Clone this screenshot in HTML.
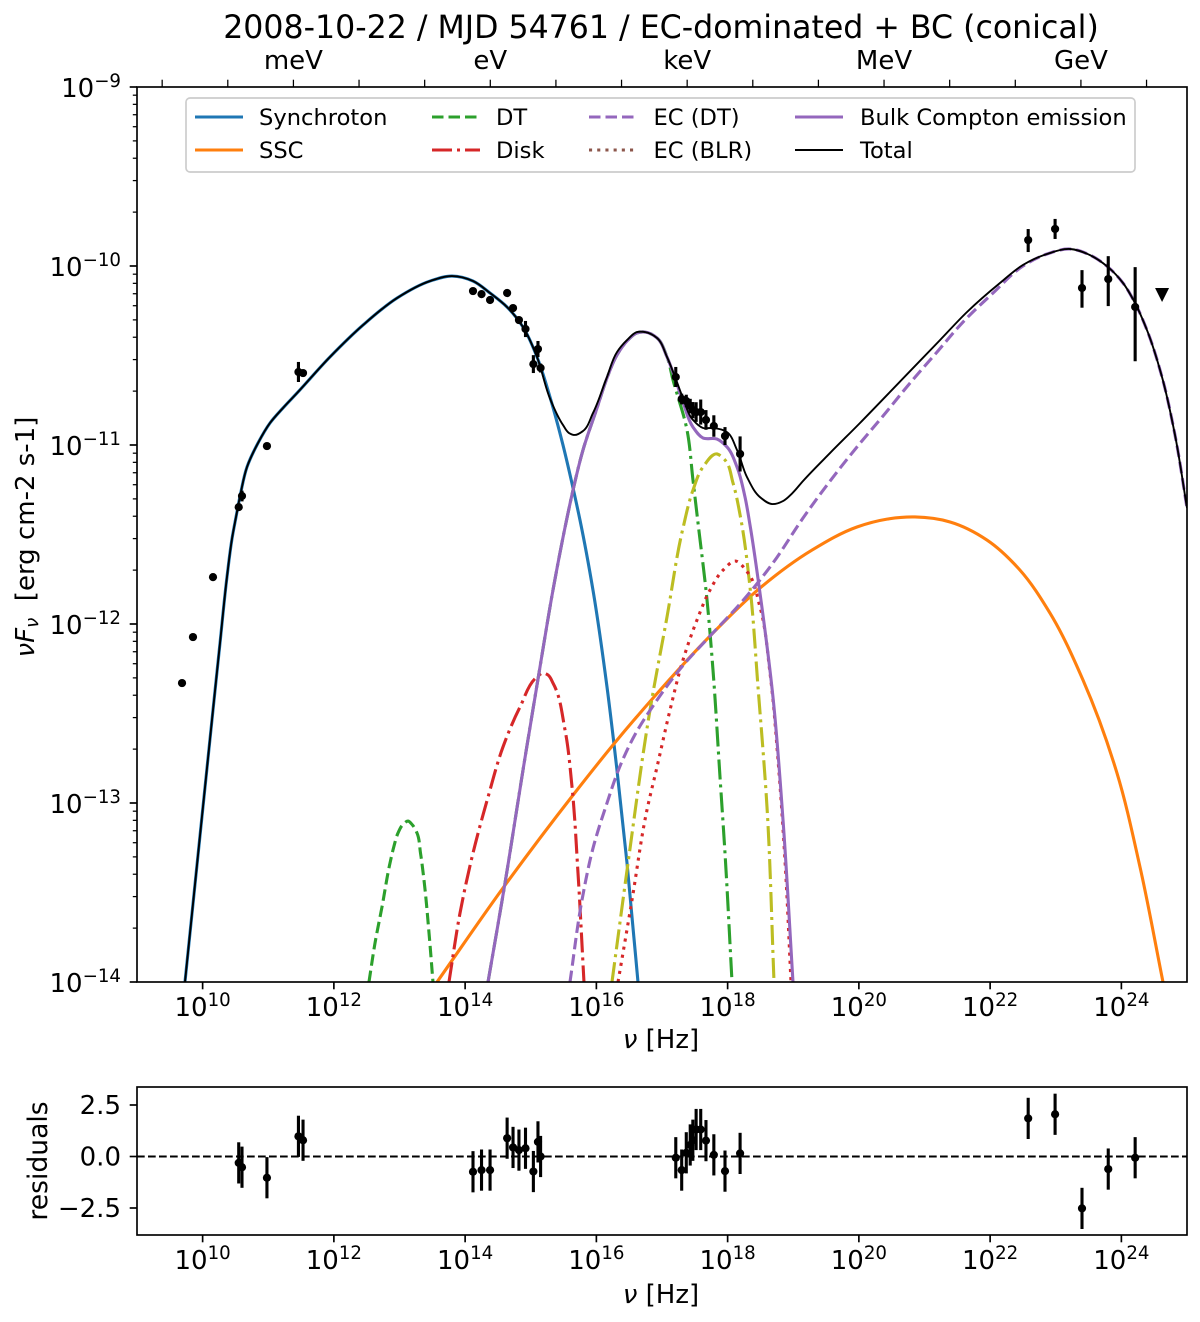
<!DOCTYPE html>
<html lang="en">
<head>
<meta charset="utf-8">
<title>2008-10-22 SED</title>
<style>
html,body{margin:0;padding:0;background:#fff;width:1200px;height:1322px;overflow:hidden}
svg{display:block}
text{font-family:"DejaVu Sans","Liberation Sans",sans-serif;fill:#000}
</style>
</head>
<body>
<svg id="figure" xmlns="http://www.w3.org/2000/svg" width="1200" height="1322" viewBox="0 0 1200 1322">
  <defs>
    <clipPath id="main-clip"><rect x="137" y="87" width="1050" height="895"/></clipPath>
    <clipPath id="res-clip"><rect x="137" y="1087" width="1050" height="148"/></clipPath>
  </defs>
  <rect x="0" y="0" width="1200" height="1322" fill="#fff"/>
  <text x="661" y="38" text-anchor="middle" font-size="31.6">2008-10-22 / MJD 54761 / EC-dominated + BC (conical)</text>
  <g id="main-curves" clip-path="url(#main-clip)"></g>
  <g id="main-data"></g>
  <g id="res-lines" clip-path="url(#res-clip)">
    <line x1="137" x2="1187" y1="1156.5" y2="1156.5" stroke="#000" stroke-width="2.1" stroke-dasharray="7.7 3.3"/>
  </g>
  <g id="axes-ticks"></g>
  <rect x="137" y="87" width="1050" height="895" fill="none" stroke="#000" stroke-width="1.67"/>
  <rect x="137" y="1087" width="1050" height="148" fill="none" stroke="#000" stroke-width="1.67"/>

  <g>
    <rect x="186" y="98" width="949" height="74" rx="4" ry="4" fill="#fff" fill-opacity="0.8" stroke="#ccc" stroke-width="1.67"/>
    <g font-size="22.6">
      <g><line x1="195" x2="243" y1="117" y2="117" stroke="#1f77b4" stroke-width="3.1"/><text x="259" y="125">Synchroton</text></g>
      <g><line x1="195" x2="243" y1="150" y2="150" stroke="#ff7f0e" stroke-width="3.1"/><text x="259" y="158">SSC</text></g>
      <g><line x1="432" x2="480" y1="117" y2="117" stroke="#2ca02c" stroke-width="3.1" stroke-dasharray="11.5 5"/><text x="496" y="125">DT</text></g>
      <g><line x1="432" x2="480" y1="150" y2="150" stroke="#d62728" stroke-width="3.1" stroke-dasharray="20 5 3 5"/><text x="496" y="158">Disk</text></g>
      <g><line x1="589" x2="637" y1="117" y2="117" stroke="#9467bd" stroke-width="3.1" stroke-dasharray="11.5 5"/><text x="653.5" y="125">EC (DT)</text></g>
      <g><line x1="589" x2="637" y1="150" y2="150" stroke="#8c564b" stroke-width="3.1" stroke-dasharray="3.1 5.1"/><text x="653.5" y="158">EC (BLR)</text></g>
      <g><line x1="795" x2="843" y1="117" y2="117" stroke="#9467bd" stroke-width="3.1"/><text x="860" y="125">Bulk Compton emission</text></g>
      <g><line x1="795" x2="843" y1="150" y2="150" stroke="#000" stroke-width="2.08"/><text x="860" y="158">Total</text></g>
    </g>
  </g>

  <text transform="translate(34 537) rotate(-90)" text-anchor="middle" font-size="26" xml:space="preserve"><tspan font-style="italic">νF</tspan><tspan font-style="italic" font-size="18.2" dy="4">ν</tspan><tspan dy="-4">  [erg cm-2 s-1]</tspan></text>
  <text x="661" y="1048" text-anchor="middle" font-size="26"><tspan font-style="italic">ν</tspan> [Hz]</text>
  <text transform="translate(47 1161) rotate(-90)" text-anchor="middle" font-size="26.6">residuals</text>
  <text x="661" y="1303" text-anchor="middle" font-size="26"><tspan font-style="italic">ν</tspan> [Hz]</text>
</svg>

<script>
// ---- Model curves: log10(frequency / Hz) and log10(nuFnu / erg cm-2 s-1)
const synchrotronNu = [9.731,10.158,10.265,10.371,10.452,10.509,10.58,10.676,10.844,11.027,11.225,11.438,11.941,12.444,12.962,13.465,13.80,14.12,14.379,14.638,14.882,15.095,15.293,15.491,15.644,15.75,15.948,16.162,16.314,16.467,16.634];
const synchrotronFlux = [-14,-12.481,-12.106,-11.738,-11.514,-11.402,-11.268,-11.123,-10.989,-10.877,-10.793,-10.710,-10.508,-10.33,-10.179,-10.084,-10.056,-10.084,-10.151,-10.229,-10.341,-10.508,-10.732,-11.0,-11.24,-11.419,-11.81,-12.352,-12.816,-13.336,-14];

const sscNu = [13.572,14.577,15.644,16.253,16.863,17.732,18.493,19.286,19.971,20.429,20.855,21.389,21.952,22.455,22.912,23.415,23.933,24.284,24.634];
const sscFlux = [-14,-13.475,-12.956,-12.676,-12.414,-12.067,-11.799,-11.587,-11.458,-11.414,-11.402,-11.43,-11.531,-11.699,-11.939,-12.313,-12.833,-13.358,-14];

const dtNu = [12.535,12.627,12.733,12.855,12.916,12.977,13.053,13.13,13.198,13.267,13.32,13.373,13.45,13.51];
const dtFlux = [-14,-13.782,-13.581,-13.336,-13.241,-13.168,-13.12,-13.101,-13.123,-13.168,-13.28,-13.43,-13.727,-14];

const diskNu = [13.754,13.922,14.12,14.349,14.577,14.836,15.095,15.187,15.263,15.339,15.522,15.629,15.72,15.811];
const diskFlux = [-14,-13.615,-13.28,-12.967,-12.687,-12.464,-12.296,-12.274,-12.285,-12.33,-12.592,-12.911,-13.391,-14];

const bcDiskNu = [14.349,14.608,14.882,15.141,15.339,15.552,15.644,15.796,16.01,16.162,16.314,16.467,16.619,16.741,16.924,17.076,17.168,17.381,17.472,17.549,17.686,17.777,17.884,17.96,18.067];
const bcDiskFlux = [-14,-13.447,-12.816,-12.24,-11.81,-11.408,-11.252,-11.028,-10.793,-10.626,-10.497,-10.419,-10.374,-10.369,-10.402,-10.508,-10.637,-10.916,-11.196,-11.436,-11.866,-12.257,-12.855,-13.28,-14];

const bcDtNu = [16.238,16.482,16.817,17.076,17.32,17.472,17.625,17.838,17.96,18.082,18.204,18.341,18.463,18.60,18.707];
const bcDtFlux = [-14,-13.336,-12.481,-11.961,-11.464,-11.252,-11.123,-11.05,-11.084,-11.212,-11.419,-11.794,-12.352,-13.023,-14];

const bcBlrNu = [16.33,16.543,16.771,16.924,17.122,17.32,17.533,17.732,17.93,18.112,18.311,18.493,18.646,18.768,18.874,18.966];
const bcBlrFlux = [-14,-13.542,-13.039,-12.799,-12.481,-12.201,-11.978,-11.81,-11.699,-11.648,-11.715,-11.905,-12.274,-12.76,-13.319,-14];

const ecDtNu = [15.598,15.781,15.949,16.162,16.36,16.619,16.863,17.274,17.732,18.189,18.691,19.149,19.514,19.971,20.368,20.779,21.19,21.587,22.044,22.501,22.867,23.217,23.522,23.796,24.025,24.208,24.39,24.619,24.817,25];
const ecDtFlux = [-14,-13.542,-13.252,-13.0,-12.794,-12.598,-12.458,-12.252,-12.067,-11.888,-11.659,-11.408,-11.224,-11.011,-10.838,-10.654,-10.481,-10.313,-10.151,-10.0,-9.933,-9.905,-9.939,-10.006,-10.095,-10.207,-10.358,-10.62,-10.944,-11.352];

const bulkComptonNu = [14.349,14.608,14.882,15.141,15.339,15.552,15.644,15.796,16.01,16.162,16.314,16.467,16.619,16.741,16.924,17.076,17.198,17.32,17.472,17.625,17.838,17.99,18.143,18.265,18.341,18.493,18.691,18.844,18.996];
const bulkComptonFlux = [-14,-13.447,-12.816,-12.24,-11.81,-11.408,-11.252,-11.028,-10.793,-10.626,-10.497,-10.419,-10.374,-10.369,-10.402,-10.508,-10.626,-10.76,-10.90,-10.961,-10.967,-11.011,-11.123,-11.291,-11.447,-11.827,-12.408,-13.095,-14];

const totalNu = [9.731,10.158,10.265,10.371,10.452,10.509,10.58,10.676,10.844,11.027,11.225,11.438,11.941,12.444,12.962,13.465,13.80,14.12,14.379,14.638,14.882,15.095,15.293,15.491,15.583,15.674,15.796,15.949,16.162,16.314,16.467,16.619,16.741,16.924,17.076,17.198,17.32,17.472,17.625,17.777,17.99,18.143,18.295,18.493,18.676,18.844,18.981,19.149,19.56,20.017,20.429,20.825,21.236,21.648,22.15,22.501,22.867,23.217,23.522,23.796,24.025,24.208,24.39,24.619,24.817,25];
const totalFlux = [-14,-12.481,-12.106,-11.738,-11.514,-11.402,-11.268,-11.123,-10.989,-10.877,-10.793,-10.710,-10.508,-10.33,-10.179,-10.084,-10.056,-10.084,-10.151,-10.229,-10.341,-10.508,-10.74,-10.888,-10.933,-10.944,-10.922,-10.821,-10.62,-10.481,-10.414,-10.369,-10.369,-10.402,-10.508,-10.62,-10.738,-10.86,-10.905,-10.905,-10.928,-11.028,-11.179,-11.291,-11.33,-11.313,-11.271,-11.201,-11.045,-10.877,-10.721,-10.57,-10.414,-10.257,-10.095,-9.994,-9.933,-9.905,-9.939,-10.006,-10.095,-10.207,-10.358,-10.62,-10.944,-11.352];

// ---- Observations
const dataNu = [9.686,9.853,10.158,10.55,10.60,10.98,11.46,11.53,14.12,14.25,14.38,14.64,14.73,14.82,14.92,15.04,15.11,15.15,17.21,17.30,17.37,17.43,17.47,17.52,17.59,17.67,17.79,17.96,18.19,22.58,22.99,23.40,23.80,24.21];
const dataFlux = [-12.33,-12.073,-11.738,-11.347,-11.285,-11.006,-10.592,-10.598,-10.14,-10.157,-10.19,-10.151,-10.235,-10.302,-10.352,-10.548,-10.464,-10.57,-10.62,-10.743,-10.754,-10.782,-10.805,-10.816,-10.816,-10.86,-10.894,-10.95,-11.05,-9.855,-9.793,-10.123,-10.073,-10.229];
const dataErrUp = [0,0,0,0.02,0.03,0.005,0.056,0.005,0,0,0,0,0.005,0.005,0.045,0.05,0.045,0.025,0.056,0.03,0.035,0.04,0.045,0.055,0.07,0.055,0.06,0.05,0.098,0.0615,0.056,0.10,0.128,0.223];
const dataErrDown = [0,0,0,0.02,0.03,0.005,0.056,0.005,0,0,0,0,0.005,0.005,0.045,0.05,0.045,0.025,0.056,0.03,0.035,0.04,0.045,0.055,0.07,0.055,0.06,0.05,0.098,0.067,0.056,0.11,0.151,0.303];
const upperLimitNu = [24.62];
const upperLimitFlux = [-10.162];

const residualNu = [10.55,10.60,10.98,11.46,11.53,14.12,14.25,14.38,14.64,14.73,14.82,14.92,15.04,15.11,15.15,17.21,17.30,17.37,17.43,17.47,17.52,17.59,17.67,17.79,17.96,18.19,22.58,22.99,23.40,23.80,24.21];
const residualValues = [-0.31,-0.52,-1.03,0.98,0.79,-0.74,-0.66,-0.66,0.89,0.44,0.31,0.40,-0.73,0.71,0.0,-0.06,-0.66,0.18,0.56,0.79,1.31,1.31,0.77,0.08,-0.71,0.15,1.85,2.05,-2.52,-0.61,-0.06];
const residualErrors = [1,1,1,1,1,1,1,1,1,1,1,1,1,1,1,1,1,1,1,1,1,1,1,1,1,1,1,1,1,1,1];

// ---- Tick labels
const xTickExponents = [10,12,14,16,18,20,22,24];
const yTickExponents = [-9,-10,-11,-12,-13,-14];
const yMinorFactors = [2,3,4,5,6,7,8,9];
const residualTicks = [2.5,0,-2.5];
const residualTickLabels = ['2.5','0.0','\u22122.5'];
const energyTickExponents = [-5,-4,-3,-2,-1,0,1,2,3,4,5,6,7,8,9,10];
const energyLabelExponents = [-3,0,3,6,9];
const energyLabelNames = ['meV','eV','keV','MeV','GeV'];
const hzPerEvLog = 14.3835;

// ---- Axis functions
const NS = 'http://www.w3.org/2000/svg';
function xScale(logNu){ return 137 + (logNu - 9) * 1050 / 16; }
function yScale(logF){ return 87 + (-9 - logF) * 895 / 5; }
function resScale(v){ return 1156.5 - v * 20.6; }

function makeEl(tag, attrs, parent){
  const el = document.createElementNS(NS, tag);
  for (const k in attrs) el.setAttribute(k, attrs[k]);
  parent.appendChild(el);
  return el;
}
function smoothPath(nu, flux){
  const pts = nu.map((n, i) => [xScale(n), yScale(flux[i])]);
  const n = pts.length;
  const dist = [];
  for (let i = 0; i < n - 1; i++) dist.push(Math.hypot(pts[i + 1][0] - pts[i][0], pts[i + 1][1] - pts[i][1]));
  const tan = pts.map((p, i) => {
    if (i === 0) return [(pts[1][0] - p[0]) / dist[0], (pts[1][1] - p[1]) / dist[0]];
    if (i === n - 1) return [(p[0] - pts[i - 1][0]) / dist[i - 1], (p[1] - pts[i - 1][1]) / dist[i - 1]];
    const d0 = dist[i - 1], d1 = dist[i];
    return [0, 1].map(k => (((p[k] - pts[i - 1][k]) / d0) * d1 + ((pts[i + 1][k] - p[k]) / d1) * d0) / (d0 + d1));
  });
  let d = 'M' + pts[0][0].toFixed(2) + ' ' + pts[0][1].toFixed(2);
  for (let i = 0; i < n - 1; i++){
    const h = dist[i] / 3;
    const c1x = pts[i][0] + tan[i][0] * h, c1y = pts[i][1] + tan[i][1] * h;
    const c2x = pts[i + 1][0] - tan[i + 1][0] * h, c2y = pts[i + 1][1] - tan[i + 1][1] * h;
    d += 'C' + c1x.toFixed(2) + ' ' + c1y.toFixed(2) + ' ' + c2x.toFixed(2) + ' ' + c2y.toFixed(2) + ' ' + pts[i + 1][0].toFixed(2) + ' ' + pts[i + 1][1].toFixed(2);
  }
  return d;
}

// ---- Curves
const curveLayer = document.getElementById('main-curves');
const curveList = [
  {name:'synchrotron-curve', nu:synchrotronNu, flux:synchrotronFlux, color:'#1f77b4', w:3.1, dash:''},
  {name:'ssc-curve', nu:sscNu, flux:sscFlux, color:'#ff7f0e', w:3.1, dash:''},
  {name:'dt-curve', nu:dtNu, flux:dtFlux, color:'#2ca02c', w:3.1, dash:'11.5 5'},
  {name:'disk-curve', nu:diskNu, flux:diskFlux, color:'#d62728', w:3.1, dash:'20 5 3 5'},
  {name:'bulk-compton-disk-curve', nu:bcDiskNu, flux:bcDiskFlux, color:'#2ca02c', w:3.1, dash:'20 5 3 5'},
  {name:'bulk-compton-dt-curve', nu:bcDtNu, flux:bcDtFlux, color:'#bcbd22', w:3.1, dash:'20 5 3 5'},
  {name:'bulk-compton-blr-curve', nu:bcBlrNu, flux:bcBlrFlux, color:'#d62728', w:3.1, dash:'3.1 5.1'},
  {name:'ec-dt-curve', nu:ecDtNu, flux:ecDtFlux, color:'#9467bd', w:3.1, dash:'11.5 5'},
  {name:'bulk-compton-curve', nu:bulkComptonNu, flux:bulkComptonFlux, color:'#9467bd', w:3.1, dash:''},
  {name:'total-curve', nu:totalNu, flux:totalFlux, color:'#000', w:1.9, dash:''}
];
curveList.forEach(c => {
  const path = makeEl('path', {d:smoothPath(c.nu, c.flux), fill:'none', stroke:c.color, 'stroke-width':c.w, 'stroke-dasharray':c.dash, 'stroke-linejoin':'round'}, curveLayer);
  
  
});

// ---- Data points
const dataLayer = document.getElementById('main-data');
dataNu.forEach((n, i) => {
  const cx = xScale(n), cy = yScale(dataFlux[i]);
  if (dataErrUp[i] > 0 || dataErrDown[i] > 0){
    const bar = makeEl('line', {x1:cx, x2:cx, y1:yScale(dataFlux[i] + dataErrUp[i]), y2:yScale(dataFlux[i] - dataErrDown[i]), stroke:'#000', 'stroke-width':3.1}, dataLayer);
    
    
  }
  const dot = makeEl('circle', {cx:cx, cy:cy, r:4.1, fill:'#000'}, dataLayer);
  
  
});
upperLimitNu.forEach((n, i) => {
  const cx = xScale(n), cy = yScale(upperLimitFlux[i]);
  const tri = makeEl('path', {d:'M' + (cx - 7) + ' ' + (cy - 7) + 'L' + (cx + 7) + ' ' + (cy - 7) + 'L' + cx + ' ' + (cy + 7) + 'Z', fill:'#000'}, dataLayer);
  
  
});

// ---- Residuals
const resLayer = document.getElementById('res-lines');
residualNu.forEach((n, i) => {
  const cx = xScale(n);
  const bar = makeEl('line', {x1:cx, x2:cx, y1:resScale(residualValues[i] + residualErrors[i]), y2:resScale(residualValues[i] - residualErrors[i]), stroke:'#000', 'stroke-width':3.1}, resLayer);
  
  
  const dot = makeEl('circle', {cx:cx, cy:resScale(residualValues[i]), r:4.1, fill:'#000'}, resLayer);
  
  
});

// ---- Ticks and labels
const tickLayer = document.getElementById('axes-ticks');
function tick(x1, y1, x2, y2, w){
  const t = makeEl('line', {x1:x1, y1:y1, x2:x2, y2:y2, stroke:'#000', 'stroke-width':w}, tickLayer);
  
  
}
function powerLabel(x, y, exp, anchor, name){
  const t = makeEl('text', {x:x, y:y, 'text-anchor':anchor, 'font-size':26}, tickLayer);
  
  
  const base = makeEl('tspan', {}, t);
  base.textContent = '10';
  const sup = makeEl('tspan', {dy:-10, 'font-size':18.2}, t);
  sup.textContent = String(exp).replace('-', '\u2212');
}
xTickExponents.forEach(e => {
  const x = xScale(e);
  tick(x, 982, x, 989.3, 1.67);
  powerLabel(x, 1016, e, 'middle', 'x-tick-label');
  tick(x, 1235, x, 1242.3, 1.67);
  powerLabel(x, 1269, e, 'middle', 'residual-x-tick-label');
});
yTickExponents.forEach(e => {
  const y = yScale(e);
  tick(137, y, 129.7, y, 1.67);
  powerLabel(121, y + 10, e, 'end', 'y-tick-label');
  if (e > -14){
    yMinorFactors.forEach(f => {
      const my = yScale(e - 1 + Math.log10(f));
      tick(137, my, 132.8, my, 1.25);
    });
  }
});
residualTicks.forEach((v, i) => {
  const y = resScale(v);
  tick(137, y, 129.7, y, 1.67);
  const t = makeEl('text', {x:121, y:y + 9, 'text-anchor':'end', 'font-size':26}, tickLayer);
  
  
  t.textContent = residualTickLabels[i];
});
energyTickExponents.forEach(e => {
  const x = xScale(e + hzPerEvLog);
  tick(x, 87, x, 79.7, 1.25);
});
energyLabelExponents.forEach((e, i) => {
  const t = makeEl('text', {x:xScale(e + hzPerEvLog), y:69, 'text-anchor':'middle', 'font-size':26}, tickLayer);
  
  
  t.textContent = energyLabelNames[i];
});
</script>
</body>
</html>
